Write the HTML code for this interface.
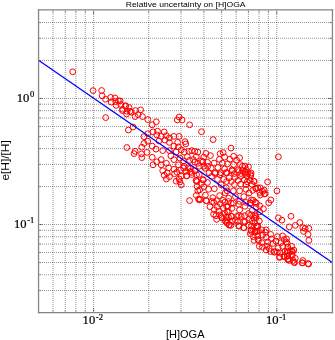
<!DOCTYPE html>
<html><head><meta charset="utf-8"><style>
html,body{margin:0;padding:0;background:#fff;}
body{width:335px;height:340px;overflow:hidden;position:relative;}
svg{position:absolute;left:0;top:0;}
.t{position:absolute;white-space:nowrap;color:#000;line-height:1;}
.s{font-family:"Liberation Sans",sans-serif;}
.f{font-family:"Liberation Serif",serif;}
sup{font-size:0.62em;vertical-align:0;position:relative;top:-0.45em;}
</style></head><body>
<svg width="335" height="340" viewBox="0 0 335 340">
<rect x="0" y="0" width="335" height="340" fill="#fff"/>
<path d="M53.0 12V312.7M65.26 12V312.7M75.88 12V312.7M85.25 12V312.7M93.63 12V312.7M148.76 12V312.7M181.01 12V312.7M203.89 12V312.7M221.64 12V312.7M236.14 12V312.7M248.4 12V312.7M259.02 12V312.7M268.39 12V312.7M276.77 12V312.7M40 290.49H331.9M40 274.74H331.9M40 262.52H331.9M40 252.53H331.9M40 244.09H331.9M40 236.78H331.9M40 230.32H331.9M40 224.55H331.9M40 186.59H331.9M40 164.39H331.9M40 148.63H331.9M40 136.41H331.9M40 126.42H331.9M40 117.98H331.9M40 110.67H331.9M40 104.22H331.9M40 98.45H331.9M40 60.48H331.9M40 38.28H331.9M40 22.52H331.9" fill="none" stroke="#000" stroke-opacity="0.42" stroke-width="1" stroke-dasharray="1 1"/>
<path d="M53.0 312.7v-2M53.0 10.3v2M65.26 312.7v-2M65.26 10.3v2M75.88 312.7v-2M75.88 10.3v2M85.25 312.7v-2M85.25 10.3v2M93.63 312.7v-4M93.63 10.3v4M148.76 312.7v-2M148.76 10.3v2M181.01 312.7v-2M181.01 10.3v2M203.89 312.7v-2M203.89 10.3v2M221.64 312.7v-2M221.64 10.3v2M236.14 312.7v-2M236.14 10.3v2M248.4 312.7v-2M248.4 10.3v2M259.02 312.7v-2M259.02 10.3v2M268.39 312.7v-2M268.39 10.3v2M276.77 312.7v-4M276.77 10.3v4M38.5 290.49h2M331.9 290.49h-2M38.5 274.74h2M331.9 274.74h-2M38.5 262.52h2M331.9 262.52h-2M38.5 252.53h2M331.9 252.53h-2M38.5 244.09h2M331.9 244.09h-2M38.5 236.78h2M331.9 236.78h-2M38.5 230.32h2M331.9 230.32h-2M38.5 224.55h4M331.9 224.55h-4M38.5 186.59h2M331.9 186.59h-2M38.5 164.39h2M331.9 164.39h-2M38.5 148.63h2M331.9 148.63h-2M38.5 136.41h2M331.9 136.41h-2M38.5 126.42h2M331.9 126.42h-2M38.5 117.98h2M331.9 117.98h-2M38.5 110.67h2M331.9 110.67h-2M38.5 104.22h2M331.9 104.22h-2M38.5 98.45h4M331.9 98.45h-4M38.5 60.48h2M331.9 60.48h-2M38.5 38.28h2M331.9 38.28h-2M38.5 22.52h2M331.9 22.52h-2" fill="none" stroke="#000" stroke-opacity="0.45" stroke-width="1"/>
<g fill="none" stroke="#f00" stroke-width="1"><circle cx="72.7" cy="71.8" r="2.9"/><circle cx="93.1" cy="90.6" r="2.9"/><circle cx="101.6" cy="90.5" r="2.9"/><circle cx="102.1" cy="95.8" r="2.9"/><circle cx="105.5" cy="99.2" r="2.9"/><circle cx="110.7" cy="97.4" r="2.9"/><circle cx="114.9" cy="97.9" r="2.9"/><circle cx="111.2" cy="102.1" r="2.9"/><circle cx="115.7" cy="101.6" r="2.9"/><circle cx="120.1" cy="100.9" r="2.9"/><circle cx="120.9" cy="104.6" r="2.9"/><circle cx="116.1" cy="105.4" r="2.9"/><circle cx="125.4" cy="105.7" r="2.9"/><circle cx="129.1" cy="107.6" r="2.9"/><circle cx="122.4" cy="110.6" r="2.9"/><circle cx="126.9" cy="111.3" r="2.9"/><circle cx="126.6" cy="114.0" r="2.9"/><circle cx="131.3" cy="112.1" r="2.9"/><circle cx="135.5" cy="110.6" r="2.9"/><circle cx="140.6" cy="109.9" r="2.9"/><circle cx="138.1" cy="114.6" r="2.9"/><circle cx="142.5" cy="116.6" r="2.9"/><circle cx="147.8" cy="119.6" r="2.9"/><circle cx="105.7" cy="117.6" r="2.9"/><circle cx="133.0" cy="127.0" r="2.9"/><circle cx="128.4" cy="130.0" r="2.9"/><circle cx="156.3" cy="121.8" r="2.9"/><circle cx="152.2" cy="124.8" r="2.9"/><circle cx="179.1" cy="117.0" r="2.9"/><circle cx="177.3" cy="120.0" r="2.9"/><circle cx="182.1" cy="120.0" r="2.9"/><circle cx="189.6" cy="124.8" r="2.9"/><circle cx="126.9" cy="147.5" r="2.9"/><circle cx="135.1" cy="151.3" r="2.9"/><circle cx="134.0" cy="153.6" r="2.9"/><circle cx="141.8" cy="147.2" r="2.9"/><circle cx="144.0" cy="143.4" r="2.9"/><circle cx="144.0" cy="136.7" r="2.9"/><circle cx="147.8" cy="141.2" r="2.9"/><circle cx="141.5" cy="153.9" r="2.9"/><circle cx="141.8" cy="157.6" r="2.9"/><circle cx="147.0" cy="152.4" r="2.9"/><circle cx="147.8" cy="133.7" r="2.9"/><circle cx="157.5" cy="131.2" r="2.9"/><circle cx="153.0" cy="131.9" r="2.9"/><circle cx="164.2" cy="131.9" r="2.9"/><circle cx="156.7" cy="134.9" r="2.9"/><circle cx="161.2" cy="136.4" r="2.9"/><circle cx="166.4" cy="135.7" r="2.9"/><circle cx="169.4" cy="137.9" r="2.9"/><circle cx="173.9" cy="136.4" r="2.9"/><circle cx="179.1" cy="136.4" r="2.9"/><circle cx="164.9" cy="140.1" r="2.9"/><circle cx="159.0" cy="140.9" r="2.9"/><circle cx="169.4" cy="142.4" r="2.9"/><circle cx="177.6" cy="142.4" r="2.9"/><circle cx="185.1" cy="141.6" r="2.9"/><circle cx="185.8" cy="143.9" r="2.9"/><circle cx="173.9" cy="146.1" r="2.9"/><circle cx="178.4" cy="146.9" r="2.9"/><circle cx="152.2" cy="146.1" r="2.9"/><circle cx="156.0" cy="149.1" r="2.9"/><circle cx="162.7" cy="150.6" r="2.9"/><circle cx="169.4" cy="150.6" r="2.9"/><circle cx="176.1" cy="152.1" r="2.9"/><circle cx="181.3" cy="149.9" r="2.9"/><circle cx="184.3" cy="152.1" r="2.9"/><circle cx="188.8" cy="151.3" r="2.9"/><circle cx="191.8" cy="150.6" r="2.9"/><circle cx="194.8" cy="151.3" r="2.9"/><circle cx="197.8" cy="152.1" r="2.9"/><circle cx="170.9" cy="155.8" r="2.9"/><circle cx="152.2" cy="157.3" r="2.9"/><circle cx="161.2" cy="159.6" r="2.9"/><circle cx="156.7" cy="161.8" r="2.9"/><circle cx="166.4" cy="163.3" r="2.9"/><circle cx="173.9" cy="159.6" r="2.9"/><circle cx="179.9" cy="158.1" r="2.9"/><circle cx="187.3" cy="156.6" r="2.9"/><circle cx="189.6" cy="160.3" r="2.9"/><circle cx="183.6" cy="161.0" r="2.9"/><circle cx="193.3" cy="159.6" r="2.9"/><circle cx="196.3" cy="156.6" r="2.9"/><circle cx="178.4" cy="164.8" r="2.9"/><circle cx="184.3" cy="166.3" r="2.9"/><circle cx="161.2" cy="164.8" r="2.9"/><circle cx="168.7" cy="167.8" r="2.9"/><circle cx="153.0" cy="164.8" r="2.9"/><circle cx="188.1" cy="167.8" r="2.9"/><circle cx="173.9" cy="169.3" r="2.9"/><circle cx="197.8" cy="163.3" r="2.9"/><circle cx="201.5" cy="131.7" r="2.9"/><circle cx="213.1" cy="139.6" r="2.9"/><circle cx="231.0" cy="148.1" r="2.9"/><circle cx="206.0" cy="153.4" r="2.9"/><circle cx="203.7" cy="157.1" r="2.9"/><circle cx="210.4" cy="155.6" r="2.9"/><circle cx="220.1" cy="153.7" r="2.9"/><circle cx="223.1" cy="152.6" r="2.9"/><circle cx="224.6" cy="157.1" r="2.9"/><circle cx="233.6" cy="156.3" r="2.9"/><circle cx="239.6" cy="157.8" r="2.9"/><circle cx="229.9" cy="159.3" r="2.9"/><circle cx="236.6" cy="160.1" r="2.9"/><circle cx="219.4" cy="159.3" r="2.9"/><circle cx="201.5" cy="160.8" r="2.9"/><circle cx="207.5" cy="162.3" r="2.9"/><circle cx="214.2" cy="163.1" r="2.9"/><circle cx="222.4" cy="163.1" r="2.9"/><circle cx="227.6" cy="163.8" r="2.9"/><circle cx="233.6" cy="164.6" r="2.9"/><circle cx="240.3" cy="164.6" r="2.9"/><circle cx="244.8" cy="166.0" r="2.9"/><circle cx="248.5" cy="166.8" r="2.9"/><circle cx="205.2" cy="168.3" r="2.9"/><circle cx="211.2" cy="168.3" r="2.9"/><circle cx="217.9" cy="167.5" r="2.9"/><circle cx="224.6" cy="169.0" r="2.9"/><circle cx="232.1" cy="169.8" r="2.9"/><circle cx="238.1" cy="169.8" r="2.9"/><circle cx="242.5" cy="170.5" r="2.9"/><circle cx="246.3" cy="169.8" r="2.9"/><circle cx="209.0" cy="172.8" r="2.9"/><circle cx="214.9" cy="173.5" r="2.9"/><circle cx="220.9" cy="172.8" r="2.9"/><circle cx="226.9" cy="172.8" r="2.9"/><circle cx="234.3" cy="173.5" r="2.9"/><circle cx="241.0" cy="173.5" r="2.9"/><circle cx="247.8" cy="173.5" r="2.9"/><circle cx="278.4" cy="156.8" r="2.9"/><circle cx="250.7" cy="174.5" r="2.9"/><circle cx="253.7" cy="181.2" r="2.9"/><circle cx="267.6" cy="181.9" r="2.9"/><circle cx="256.0" cy="188.7" r="2.9"/><circle cx="260.4" cy="187.9" r="2.9"/><circle cx="259.7" cy="192.4" r="2.9"/><circle cx="264.2" cy="190.1" r="2.9"/><circle cx="264.2" cy="193.9" r="2.9"/><circle cx="276.9" cy="190.9" r="2.9"/><circle cx="270.9" cy="199.9" r="2.9"/><circle cx="268.7" cy="202.8" r="2.9"/><circle cx="251.5" cy="199.9" r="2.9"/><circle cx="250.7" cy="202.8" r="2.9"/><circle cx="259.7" cy="205.8" r="2.9"/><circle cx="256.0" cy="207.3" r="2.9"/><circle cx="263.4" cy="208.8" r="2.9"/><circle cx="252.2" cy="210.3" r="2.9"/><circle cx="255.2" cy="214.8" r="2.9"/><circle cx="259.7" cy="211.8" r="2.9"/><circle cx="251.5" cy="214.8" r="2.9"/><circle cx="256.0" cy="217.8" r="2.9"/><circle cx="278.4" cy="217.8" r="2.9"/><circle cx="291.0" cy="216.3" r="2.9"/><circle cx="162.7" cy="170.7" r="2.9"/><circle cx="167.2" cy="173.0" r="2.9"/><circle cx="164.2" cy="175.2" r="2.9"/><circle cx="169.4" cy="176.7" r="2.9"/><circle cx="166.4" cy="179.0" r="2.9"/><circle cx="174.6" cy="173.7" r="2.9"/><circle cx="176.9" cy="172.2" r="2.9"/><circle cx="180.6" cy="170.0" r="2.9"/><circle cx="185.8" cy="171.5" r="2.9"/><circle cx="190.3" cy="171.5" r="2.9"/><circle cx="194.8" cy="170.7" r="2.9"/><circle cx="186.6" cy="176.0" r="2.9"/><circle cx="191.8" cy="174.5" r="2.9"/><circle cx="176.1" cy="181.2" r="2.9"/><circle cx="179.9" cy="181.9" r="2.9"/><circle cx="181.3" cy="184.9" r="2.9"/><circle cx="179.1" cy="179.0" r="2.9"/><circle cx="196.3" cy="180.4" r="2.9"/><circle cx="197.0" cy="186.4" r="2.9"/><circle cx="197.8" cy="190.9" r="2.9"/><circle cx="196.3" cy="195.4" r="2.9"/><circle cx="198.5" cy="199.1" r="2.9"/><circle cx="189.6" cy="200.6" r="2.9"/><circle cx="199.3" cy="174.5" r="2.9"/><circle cx="199.4" cy="200.0" r="2.9"/><circle cx="206.1" cy="200.7" r="2.9"/><circle cx="212.1" cy="201.5" r="2.9"/><circle cx="216.6" cy="200.7" r="2.9"/><circle cx="220.3" cy="203.7" r="2.9"/><circle cx="224.8" cy="202.2" r="2.9"/><circle cx="228.5" cy="201.5" r="2.9"/><circle cx="209.9" cy="206.7" r="2.9"/><circle cx="214.3" cy="209.7" r="2.9"/><circle cx="218.8" cy="211.2" r="2.9"/><circle cx="217.3" cy="206.7" r="2.9"/><circle cx="223.3" cy="208.2" r="2.9"/><circle cx="227.8" cy="206.7" r="2.9"/><circle cx="213.6" cy="214.2" r="2.9"/><circle cx="219.6" cy="214.9" r="2.9"/><circle cx="224.8" cy="213.4" r="2.9"/><circle cx="228.5" cy="211.9" r="2.9"/><circle cx="216.6" cy="219.4" r="2.9"/><circle cx="221.8" cy="217.9" r="2.9"/><circle cx="225.5" cy="220.9" r="2.9"/><circle cx="228.5" cy="217.2" r="2.9"/><circle cx="227.0" cy="223.1" r="2.9"/><circle cx="229.3" cy="224.6" r="2.9"/><circle cx="216.0" cy="215.7" r="2.9"/><circle cx="221.2" cy="216.5" r="2.9"/><circle cx="225.7" cy="221.7" r="2.9"/><circle cx="226.4" cy="217.2" r="2.9"/><circle cx="230.9" cy="225.4" r="2.9"/><circle cx="232.4" cy="221.0" r="2.9"/><circle cx="231.6" cy="216.5" r="2.9"/><circle cx="237.6" cy="221.7" r="2.9"/><circle cx="236.9" cy="216.5" r="2.9"/><circle cx="241.3" cy="216.5" r="2.9"/><circle cx="245.1" cy="221.7" r="2.9"/><circle cx="243.6" cy="227.7" r="2.9"/><circle cx="239.1" cy="226.2" r="2.9"/><circle cx="248.8" cy="219.5" r="2.9"/><circle cx="248.8" cy="225.4" r="2.9"/><circle cx="254.0" cy="218.0" r="2.9"/><circle cx="251.0" cy="229.9" r="2.9"/><circle cx="250.3" cy="233.7" r="2.9"/><circle cx="254.8" cy="232.2" r="2.9"/><circle cx="253.3" cy="236.6" r="2.9"/><circle cx="257.8" cy="235.9" r="2.9"/><circle cx="254.0" cy="240.4" r="2.9"/><circle cx="258.5" cy="240.4" r="2.9"/><circle cx="258.5" cy="230.7" r="2.9"/><circle cx="257.8" cy="226.2" r="2.9"/><circle cx="254.8" cy="223.2" r="2.9"/><circle cx="259.3" cy="221.0" r="2.9"/><circle cx="259.3" cy="246.3" r="2.9"/><circle cx="281.9" cy="220.2" r="2.9"/><circle cx="289.3" cy="226.9" r="2.9"/><circle cx="295.3" cy="225.4" r="2.9"/><circle cx="299.8" cy="222.5" r="2.9"/><circle cx="302.8" cy="227.7" r="2.9"/><circle cx="303.5" cy="231.4" r="2.9"/><circle cx="257.2" cy="226.2" r="2.9"/><circle cx="257.2" cy="231.4" r="2.9"/><circle cx="261.7" cy="229.9" r="2.9"/><circle cx="265.4" cy="232.2" r="2.9"/><circle cx="262.5" cy="235.1" r="2.9"/><circle cx="266.2" cy="237.4" r="2.9"/><circle cx="270.7" cy="234.4" r="2.9"/><circle cx="271.4" cy="238.9" r="2.9"/><circle cx="258.0" cy="239.6" r="2.9"/><circle cx="261.7" cy="242.6" r="2.9"/><circle cx="267.7" cy="241.9" r="2.9"/><circle cx="272.9" cy="243.4" r="2.9"/><circle cx="275.9" cy="241.1" r="2.9"/><circle cx="277.4" cy="236.6" r="2.9"/><circle cx="282.6" cy="235.9" r="2.9"/><circle cx="284.1" cy="239.6" r="2.9"/><circle cx="281.1" cy="242.6" r="2.9"/><circle cx="286.3" cy="241.9" r="2.9"/><circle cx="262.5" cy="247.1" r="2.9"/><circle cx="266.9" cy="246.3" r="2.9"/><circle cx="269.2" cy="248.6" r="2.9"/><circle cx="274.4" cy="251.6" r="2.9"/><circle cx="278.1" cy="247.8" r="2.9"/><circle cx="282.6" cy="246.3" r="2.9"/><circle cx="287.8" cy="247.1" r="2.9"/><circle cx="291.6" cy="246.3" r="2.9"/><circle cx="280.4" cy="253.1" r="2.9"/><circle cx="284.9" cy="251.6" r="2.9"/><circle cx="290.1" cy="250.8" r="2.9"/><circle cx="293.8" cy="250.1" r="2.9"/><circle cx="279.6" cy="257.5" r="2.9"/><circle cx="284.1" cy="256.8" r="2.9"/><circle cx="287.8" cy="256.0" r="2.9"/><circle cx="292.3" cy="255.3" r="2.9"/><circle cx="295.3" cy="258.3" r="2.9"/><circle cx="289.3" cy="260.5" r="2.9"/><circle cx="294.6" cy="262.8" r="2.9"/><circle cx="302.8" cy="260.5" r="2.9"/><circle cx="266.2" cy="229.9" r="2.9"/><circle cx="305.1" cy="228.4" r="2.9"/><circle cx="308.9" cy="228.4" r="2.9"/><circle cx="308.1" cy="234.4" r="2.9"/><circle cx="308.9" cy="240.4" r="2.9"/><circle cx="286.5" cy="238.9" r="2.9"/><circle cx="287.2" cy="243.4" r="2.9"/><circle cx="291.7" cy="250.8" r="2.9"/><circle cx="288.0" cy="252.3" r="2.9"/><circle cx="291.7" cy="254.6" r="2.9"/><circle cx="288.0" cy="259.0" r="2.9"/><circle cx="293.2" cy="260.5" r="2.9"/><circle cx="302.2" cy="262.8" r="2.9"/><circle cx="308.1" cy="263.5" r="2.9"/><circle cx="266.1" cy="250.0" r="2.9"/><circle cx="270.6" cy="251.5" r="2.9"/><circle cx="274.3" cy="252.2" r="2.9"/><circle cx="279.6" cy="256.7" r="2.9"/><circle cx="284.0" cy="256.0" r="2.9"/><circle cx="287.8" cy="259.7" r="2.9"/><circle cx="277.3" cy="252.2" r="2.9"/><circle cx="287.2" cy="251.0" r="2.9"/><circle cx="292.5" cy="251.7" r="2.9"/><circle cx="287.2" cy="256.2" r="2.9"/><circle cx="294.0" cy="262.2" r="2.9"/><circle cx="302.6" cy="262.9" r="2.9"/><circle cx="308.6" cy="264.1" r="2.9"/><circle cx="196.6" cy="174.7" r="2.9"/><circle cx="203.4" cy="179.9" r="2.9"/><circle cx="197.1" cy="181.5" r="2.9"/><circle cx="207.5" cy="182.5" r="2.9"/><circle cx="211.7" cy="176.3" r="2.9"/><circle cx="214.9" cy="172.6" r="2.9"/><circle cx="220.1" cy="174.7" r="2.9"/><circle cx="223.7" cy="179.4" r="2.9"/><circle cx="217.5" cy="179.4" r="2.9"/><circle cx="208.6" cy="189.3" r="2.9"/><circle cx="214.3" cy="188.8" r="2.9"/><circle cx="199.7" cy="189.9" r="2.9"/><circle cx="205.4" cy="195.1" r="2.9"/><circle cx="212.8" cy="197.7" r="2.9"/><circle cx="219.6" cy="195.6" r="2.9"/><circle cx="225.3" cy="193.0" r="2.9"/><circle cx="200.2" cy="199.3" r="2.9"/><circle cx="206.5" cy="200.8" r="2.9"/><circle cx="213.8" cy="202.4" r="2.9"/><circle cx="222.7" cy="200.3" r="2.9"/><circle cx="226.3" cy="187.8" r="2.9"/><circle cx="201.3" cy="183.6" r="2.9"/><circle cx="221.1" cy="184.6" r="2.9"/><circle cx="226.0" cy="172.6" r="2.9"/><circle cx="232.3" cy="171.0" r="2.9"/><circle cx="238.6" cy="171.6" r="2.9"/><circle cx="244.9" cy="172.1" r="2.9"/><circle cx="251.1" cy="173.1" r="2.9"/><circle cx="229.2" cy="177.8" r="2.9"/><circle cx="234.9" cy="177.3" r="2.9"/><circle cx="240.7" cy="176.3" r="2.9"/><circle cx="246.9" cy="175.7" r="2.9"/><circle cx="226.6" cy="181.5" r="2.9"/><circle cx="231.3" cy="181.5" r="2.9"/><circle cx="238.1" cy="180.4" r="2.9"/><circle cx="244.3" cy="179.9" r="2.9"/><circle cx="250.1" cy="180.4" r="2.9"/><circle cx="254.3" cy="181.5" r="2.9"/><circle cx="234.4" cy="184.6" r="2.9"/><circle cx="240.7" cy="184.1" r="2.9"/><circle cx="245.9" cy="184.6" r="2.9"/><circle cx="255.8" cy="188.3" r="2.9"/><circle cx="227.1" cy="190.9" r="2.9"/><circle cx="233.4" cy="190.9" r="2.9"/><circle cx="239.6" cy="190.9" r="2.9"/><circle cx="245.9" cy="189.3" r="2.9"/><circle cx="252.7" cy="190.4" r="2.9"/><circle cx="228.7" cy="198.2" r="2.9"/><circle cx="235.4" cy="196.6" r="2.9"/><circle cx="243.8" cy="196.6" r="2.9"/><circle cx="249.0" cy="193.0" r="2.9"/><circle cx="231.3" cy="203.4" r="2.9"/><circle cx="239.6" cy="201.3" r="2.9"/><circle cx="245.9" cy="202.4" r="2.9"/><circle cx="253.2" cy="200.3" r="2.9"/><circle cx="256.3" cy="203.4" r="2.9"/><circle cx="233.4" cy="203.1" r="2.9"/><circle cx="238.6" cy="204.2" r="2.9"/><circle cx="226.6" cy="206.3" r="2.9"/><circle cx="231.8" cy="208.4" r="2.9"/><circle cx="239.6" cy="209.9" r="2.9"/><circle cx="244.9" cy="206.3" r="2.9"/><circle cx="250.1" cy="203.1" r="2.9"/><circle cx="255.3" cy="202.1" r="2.9"/><circle cx="227.1" cy="211.5" r="2.9"/><circle cx="231.3" cy="216.2" r="2.9"/><circle cx="238.6" cy="215.7" r="2.9"/><circle cx="244.9" cy="215.7" r="2.9"/><circle cx="248.5" cy="213.6" r="2.9"/><circle cx="255.3" cy="216.2" r="2.9"/><circle cx="227.1" cy="219.9" r="2.9"/><circle cx="235.4" cy="219.9" r="2.9"/><circle cx="243.8" cy="221.4" r="2.9"/><circle cx="252.2" cy="220.9" r="2.9"/><circle cx="229.2" cy="225.1" r="2.9"/><circle cx="238.6" cy="225.6" r="2.9"/><circle cx="243.8" cy="227.7" r="2.9"/><circle cx="251.6" cy="226.1" r="2.9"/><circle cx="256.3" cy="226.1" r="2.9"/><circle cx="251.1" cy="231.3" r="2.9"/><circle cx="255.3" cy="231.3" r="2.9"/><circle cx="194.8" cy="162.2" r="2.9"/><circle cx="199.2" cy="166.3" r="2.9"/><circle cx="203.7" cy="166.3" r="2.9"/><circle cx="202.8" cy="161.8" r="2.9"/><circle cx="207.8" cy="166.3" r="2.9"/><circle cx="183.6" cy="168.1" r="2.9"/><circle cx="190.3" cy="168.5" r="2.9"/><circle cx="186.7" cy="175.7" r="2.9"/><circle cx="196.1" cy="180.6" r="2.9"/><circle cx="202.8" cy="179.7" r="2.9"/><circle cx="203.7" cy="186.9" r="2.9"/><circle cx="191.6" cy="172.5" r="2.9"/><circle cx="181.3" cy="176.1" r="2.9"/><circle cx="118.4" cy="100.9" r="2.9"/><circle cx="125.7" cy="106.1" r="2.9"/><circle cx="122.6" cy="109.3" r="2.9"/><circle cx="129.9" cy="111.3" r="2.9"/><circle cx="135.1" cy="116.6" r="2.9"/><circle cx="257.9" cy="187.8" r="2.9"/><circle cx="262.7" cy="191.3" r="2.9"/><circle cx="260.3" cy="194.9" r="2.9"/><circle cx="265.1" cy="193.7" r="2.9"/><circle cx="244.8" cy="173.4" r="2.9"/><circle cx="242.4" cy="166.3" r="2.9"/><circle cx="250.7" cy="175.8" r="2.9"/><circle cx="247.2" cy="181.8" r="2.9"/><circle cx="251.9" cy="184.2" r="2.9"/></g>
<path d="M38.5 60.18L331.9 262.22" stroke="#00f" stroke-width="1.3" fill="none"/>
<path d="M38.55 9.100000000000001V313.4M332.45 9.100000000000001V313.4M37.849999999999994 9.8H333.15M37.849999999999994 312.7H333.15" fill="none" stroke="#858585" stroke-width="1.3"/>
</svg>
<svg width="335" height="340" style="position:absolute;left:0;top:0;will-change:transform">
<text transform="translate(125.8,7.3) scale(1.21,1)" font-family="Liberation Sans" font-size="7.1" letter-spacing="0" fill="#000">Relative uncertainty on [H]OGA</text>
<g font-family="Liberation Serif" font-size="12.6" fill="#000" stroke="#000" stroke-width="0.22">
<text x="16.7" y="102">10<tspan font-size="8.6" dx="0.6" dy="-4.9">0</tspan></text>
<text x="14" y="228">10<tspan font-size="8.6" dx="0.6" dy="-4.9">-1</tspan></text>
<text x="82.6" y="324.4">10<tspan font-size="8.6" dx="0.6" dy="-4.9">-2</tspan></text>
<text x="266.0" y="324.4">10<tspan font-size="8.6" dx="0.6" dy="-4.9">-1</tspan></text>
</g>
<text x="166" y="337.8" font-family="Liberation Sans" font-size="11" fill="#000">[H]OGA</text>
<text transform="translate(8.7,180.6) rotate(-90) scale(1.135,1)" font-family="Liberation Sans" font-size="10.5" fill="#000">e[H]/[H]</text>
</svg>
</body></html>
